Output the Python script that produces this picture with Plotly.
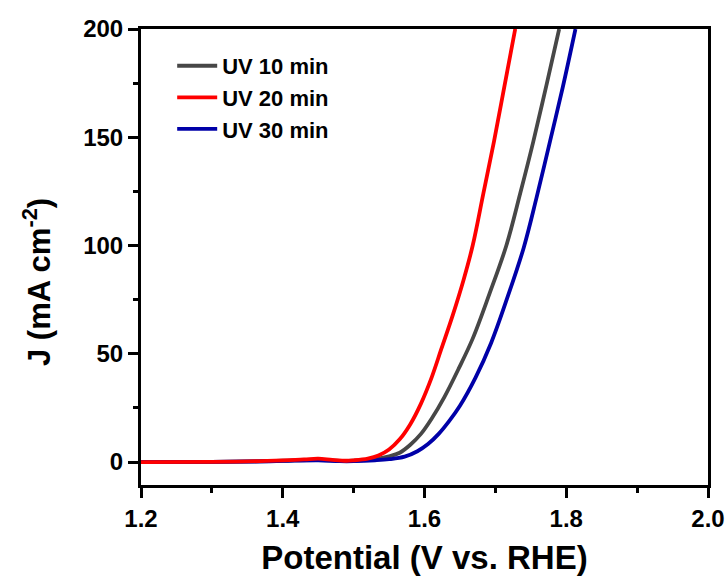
import plotly.graph_objects as go

# UV 10 min (gray)
x_uv10 = [1.20, 1.30, 1.36, 1.40, 1.45, 1.48, 1.50, 1.53, 1.55, 1.565, 1.58, 1.595, 1.61, 1.628, 1.648, 1.668,
          1.692, 1.7155, 1.735, 1.7535, 1.772, 1.79]
j_uv10 = [0.0, 0.05, 0.3, 0.6, 1.0, 0.5, 0.6, 1.3, 2.6, 4.3, 8.0, 13.0, 20.0, 30.0, 43.0, 57.0,
          78.0, 100.0, 124.0, 148.0, 174.0, 200.0]

# UV 20 min (red)
x_uv20 = [1.20, 1.30, 1.35, 1.40, 1.43, 1.45, 1.47, 1.49, 1.50, 1.52, 1.535, 1.55, 1.565, 1.58, 1.595, 1.61,
          1.6235, 1.64, 1.655, 1.668, 1.683, 1.698, 1.713, 1.728]
j_uv20 = [0.0, 0.05, 0.3, 0.8, 1.2, 1.6, 1.0, 0.6, 0.8, 1.6, 3.0, 5.8, 10.5, 17.5, 27.0, 39.0,
          52.0, 68.0, 84.0, 100.0, 124.0, 148.0, 174.0, 200.0]

# UV 30 min (blue)
x_uv30 = [1.20, 1.30, 1.36, 1.40, 1.45, 1.48, 1.50, 1.53, 1.55, 1.572, 1.59, 1.605, 1.62, 1.635, 1.65, 1.672,
          1.694, 1.717, 1.74, 1.758, 1.777, 1.795, 1.813]
j_uv30 = [0.0, 0.05, 0.25, 0.5, 0.8, 0.4, 0.4, 0.8, 1.3, 2.5, 5.0, 8.3, 13.0, 19.0, 26.0, 39.0,
          55.0, 76.0, 99.0, 122.0, 148.0, 173.0, 200.0]

series_names = ["UV 10 min", "UV 20 min", "UV 30 min"]
x_ticks = [1.2, 1.4, 1.6, 1.8, 2.0]
y_ticks = [0, 50, 100, 150, 200]

FONT = "Arial, Liberation Sans, sans-serif"
LW = 3.8

fig = go.Figure()
fig.add_trace(go.Scatter(x=x_uv10, y=j_uv10, mode="lines", name=series_names[0], legendrank=1,
                         line=dict(color="#474747", width=LW, shape="spline", smoothing=1.0)))
fig.add_trace(go.Scatter(x=x_uv30, y=j_uv30, mode="lines", name=series_names[2], legendrank=3,
                         line=dict(color="#0000a8", width=LW, shape="spline", smoothing=1.0)))
fig.add_trace(go.Scatter(x=x_uv20, y=j_uv20, mode="lines", name=series_names[1], legendrank=2,
                         line=dict(color="#ff0000", width=LW, shape="spline", smoothing=1.0)))

axis_common = dict(
    showline=True, linecolor="black", linewidth=3, mirror=True,
    showgrid=False, zeroline=False, automargin=False,
    ticks="outside", ticklen=10, tickwidth=2.5, tickcolor="black",
    tickfont=dict(family=FONT, size=24, color="black", weight="bold"),
)

fig.update_xaxes(
    range=[1.2, 2.0], tickvals=x_ticks, ticktext=[f"{v:.1f}" for v in x_ticks],
    minor=dict(ticks="outside", dtick=0.1, tick0=1.2, ticklen=5, tickwidth=2.5, tickcolor="black"),
    title=dict(text="Potential (V vs. RHE)", standoff=16,
               font=dict(family=FONT, size=33, color="black", weight="bold")),
    **axis_common,
)
fig.update_yaxes(
    range=[-10.6, 200], tickvals=y_ticks,
    minor=dict(ticks="outside", dtick=25, tick0=0, ticklen=5, tickwidth=2.5, tickcolor="black"),
    **axis_common,
)

# y-axis title placed as in the reference (slightly below the axis centre)
fig.add_annotation(
    text="J (mA cm<sup>-2</sup>)", textangle=-90, showarrow=False,
    xref="paper", yref="paper", x=(37 - 141) / 567, y=(485 - 282) / 456,
    xanchor="center", yanchor="middle",
    font=dict(family=FONT, size=31, color="black", weight="bold"),
)

fig.update_layout(
    width=728, height=581,
    margin=dict(l=141, r=20, t=29, b=96),
    plot_bgcolor="white", paper_bgcolor="white",
    showlegend=True,
    legend=dict(x=0.055, y=0.965, xanchor="left", yanchor="top",
                bgcolor="rgba(0,0,0,0)", borderwidth=0,
                font=dict(family=FONT, size=22, color="black", weight="bold"),
                itemwidth=40, tracegroupgap=0),
)

fig.write_html("out.html")
